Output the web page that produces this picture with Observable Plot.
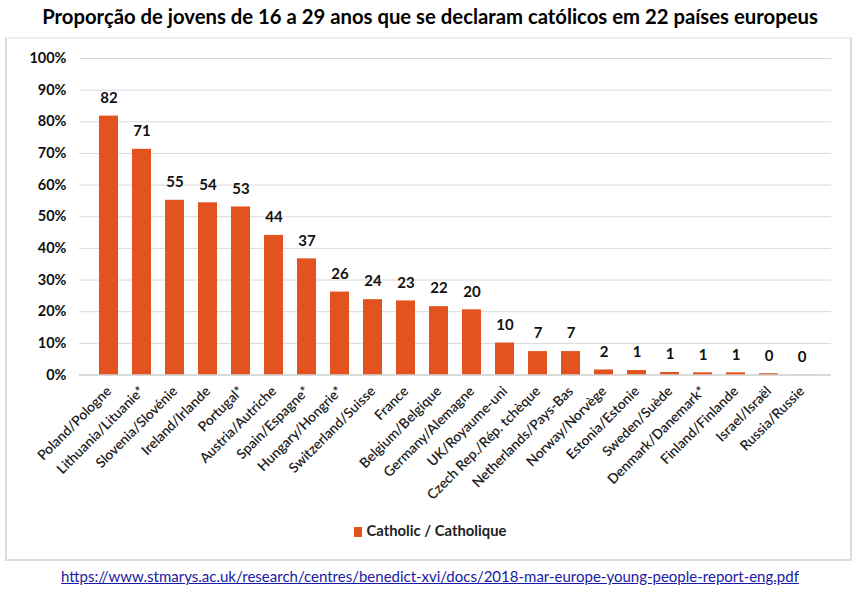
<!DOCTYPE html>
<html>
<head>
<meta charset="utf-8">
<script src="https://cdn.jsdelivr.net/npm/d3@7"></script>
<script src="https://cdn.jsdelivr.net/npm/@observablehq/plot@0.6"></script>
<style>
  html, body { margin: 0; padding: 0; background: #fff; }
  body { width: 860px; height: 593px; position: relative; overflow: hidden; font-family: Lato, "Open Sans", sans-serif; }
  #title { position: absolute; top: 4px; left: 0; width: 860px; text-align: center; font-weight: bold; font-size: 20.3px; color: #000; }
  #box { position: absolute; left: 5px; top: 37px; width: 843px; height: 520px; border: 2px solid #dcdcdc; border-top-color: #eeeeee; }
  #chart { position: absolute; left: 5px; top: 37px; }
  #legend { position: absolute; top: 521px; left: 0; width: 860px; text-align: center; font-weight: bold; font-size: 14.8px; color: #222; }
  #legend .sw { display: inline-block; width: 8px; height: 10px; background: #e2531f; margin-right: 5px; vertical-align: -1px; }
  #url { position: absolute; top: 567px; left: 0; width: 860px; text-align: center; font-size: 15px; }
  #url a { color: #1a1aa6; text-decoration: underline; }
</style>
</head>
<body>
<div id="title">Proporção de jovens de 16 a 29 anos que se declaram católicos em 22 países europeus</div>
<div id="box"></div>
<div id="chart"></div>
<div id="legend"><span class="sw"></span>Catholic / Catholique</div>
<div id="url"><a href="#">https://www.stmarys.ac.uk/research/centres/benedict-xvi/docs/2018-mar-europe-young-people-report-eng.pdf</a></div>
<script>
const countries = [
  "Poland/Pologne", "Lithuania/Lituanie*", "Slovenia/Slovénie", "Ireland/Irlande",
  "Portugal*", "Austria/Autriche", "Spain/Espagne*", "Hungary/Hongrie*",
  "Switzerland/Suisse", "France", "Belgium/Belgique", "Germany/Alemagne",
  "UK/Royaume-uni", "Czech Rep./Rép. tchèque", "Netherlands/Pays-Bas", "Norway/Norvège",
  "Estonia/Estonie", "Sweden/Suède", "Denmark/Danemark*", "Finland/Finlande",
  "Israel/Israël", "Russia/Russie"
];
const values = [81.8, 71.3, 55.2, 54.4, 53.1, 44.1, 36.7, 26.2, 23.8, 23.4, 21.6, 20.6,
                10.1, 7.4, 7.4, 1.6, 1.4, 0.8, 0.7, 0.7, 0.4, 0.05];
const valueLabels = ["82", "71", "55", "54", "53", "44", "37", "26", "24", "23", "22", "20",
                     "10", "7", "7", "2", "1", "1", "1", "1", "0", "0"];
const yTicks = [0, 10, 20, 30, 40, 50, 60, 70, 80, 90, 100];

const data = countries.map((c, i) => ({country: c, value: values[i], label: valueLabels[i]}));

const chart = Plot.plot({
  width: 846,
  height: 480,
  marginLeft: 74,
  marginRight: 20,
  marginTop: 21,
  marginBottom: 142.5,
  style: {fontFamily: "Lato, 'Open Sans', sans-serif", background: "transparent"},
  x: {domain: countries, padding: 0.43, label: null},
  y: {domain: [0, 100], label: null},
  marks: [
    Plot.gridY(yTicks, {stroke: "#d9d9d9", strokeOpacity: 1, strokeWidth: 1}),
    Plot.barY(data, {x: "country", y: "value", fill: "#e2531f"}),
    Plot.ruleY([0], {stroke: "#c8c8c8", strokeWidth: 1}),
    Plot.text(data, {x: "country", y: "value", text: "label", dy: -18, fontWeight: "bold", fontSize: 15, fill: "#111"}),
    Plot.axisY(yTicks, {tickSize: 0, tickPadding: 13, tickFormat: d => d + "%", fontSize: 14.5, fontWeight: "bold", fill: "#111", label: null}),
    Plot.axisX({tickSize: 0, tickPadding: 14, tickRotate: -45, fontSize: 13.8, fontWeight: 600, fill: "#1e1e1e", label: null})
  ]
});
document.getElementById("chart").appendChild(chart);
</script>
</body>
</html>
